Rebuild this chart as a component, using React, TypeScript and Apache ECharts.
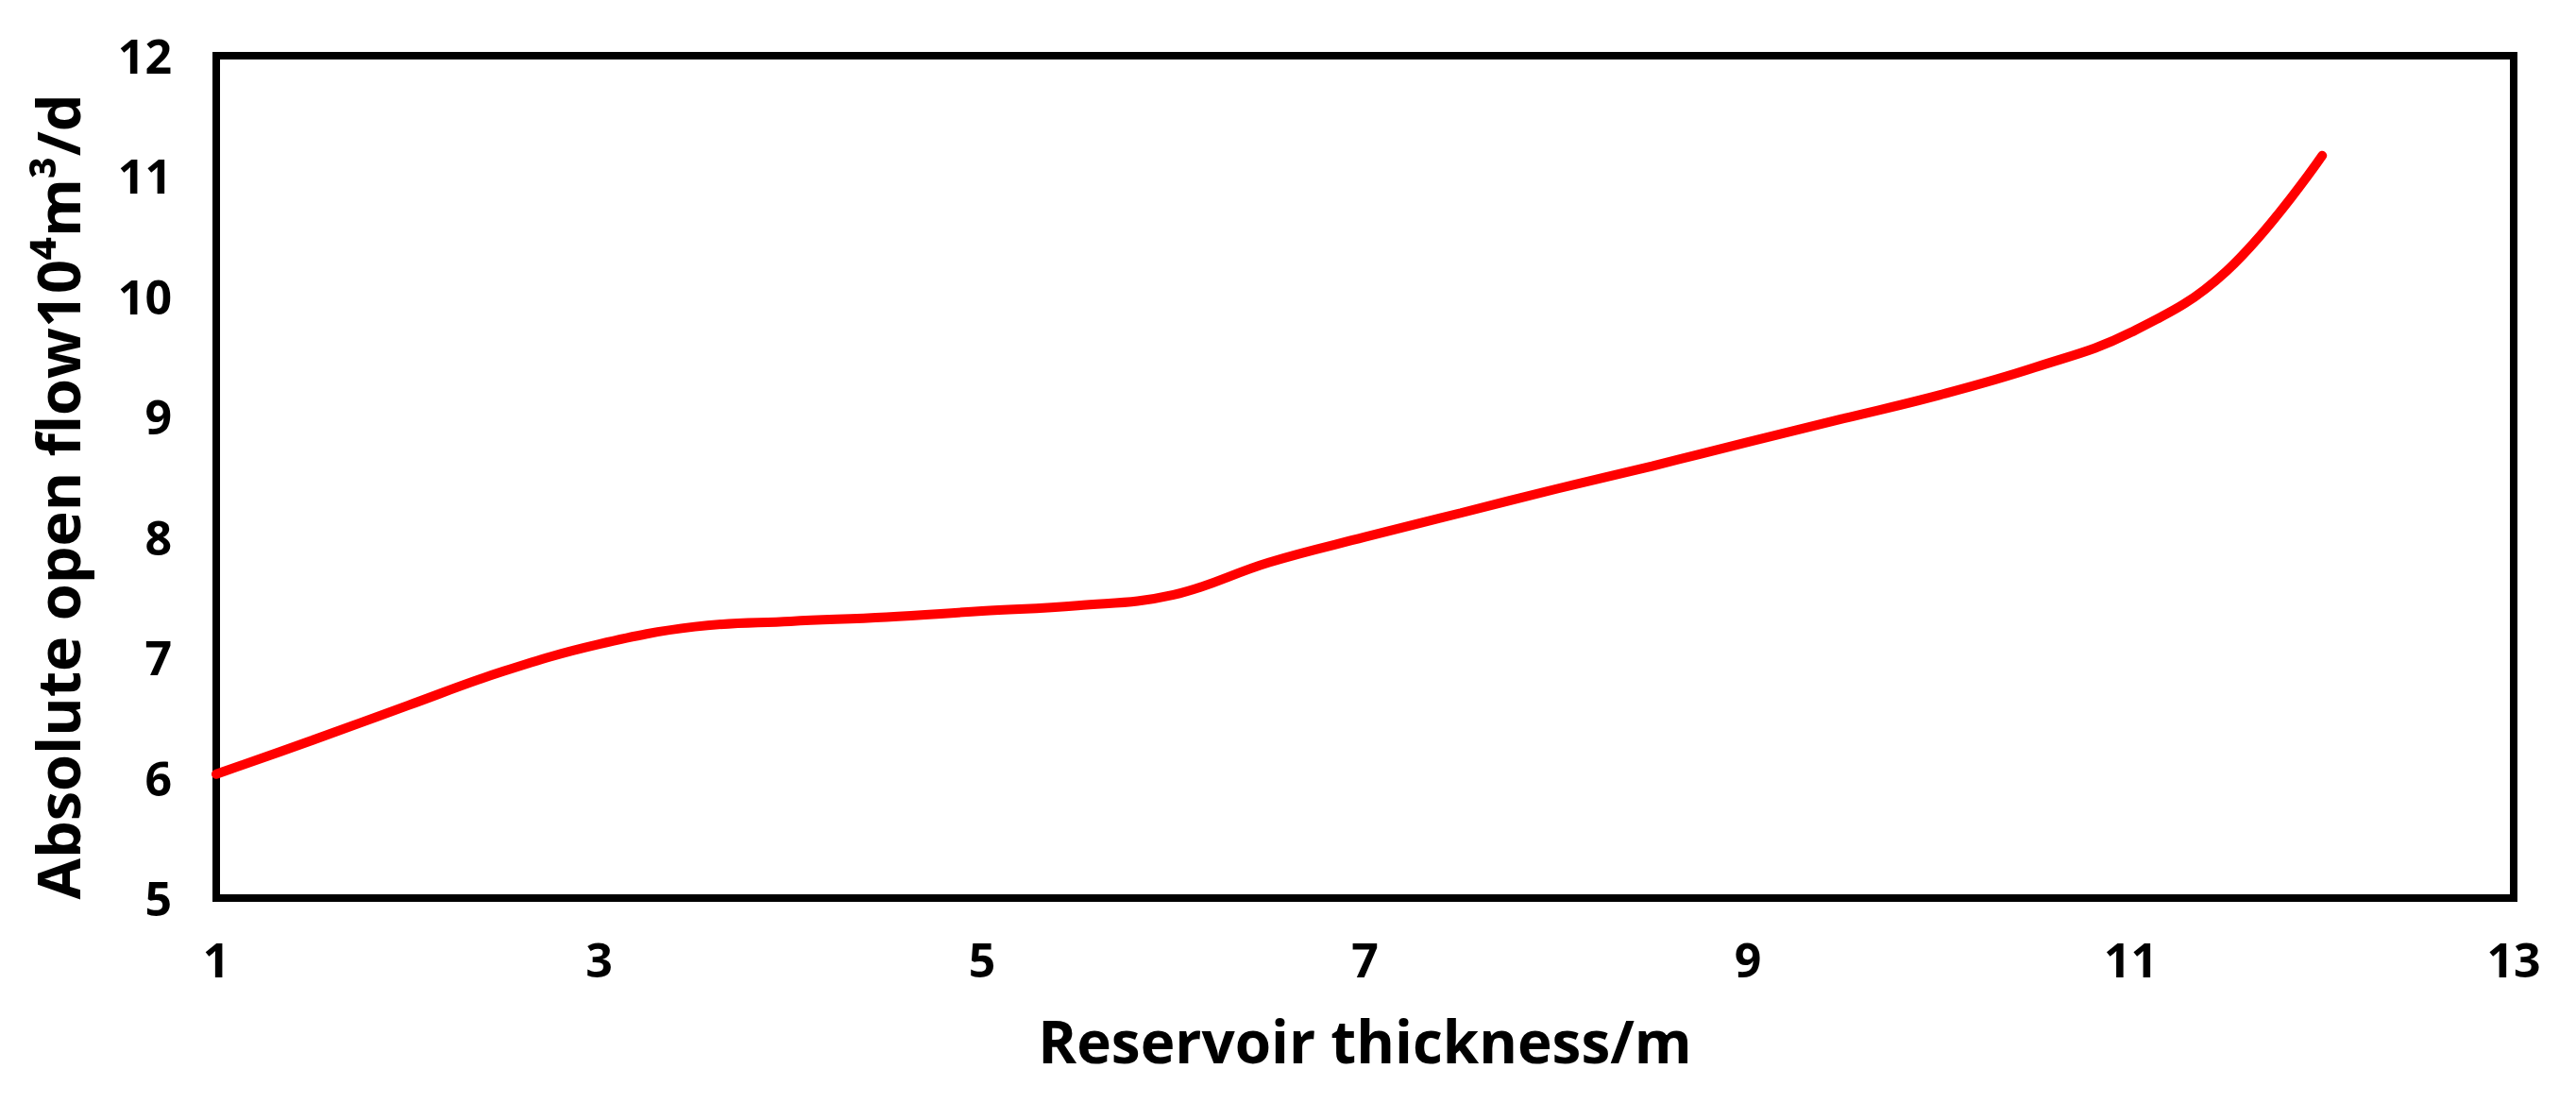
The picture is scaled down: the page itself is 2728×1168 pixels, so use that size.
import React, { useEffect, useRef } from "react";
import * as echarts from "echarts";

const thickness = [1, 1.5, 2, 2.5, 3, 3.5, 4, 4.5, 5, 5.5, 6, 6.5, 7, 7.5, 8, 8.5, 9, 9.5, 10, 10.5, 11, 11.5, 12];
const openFlow = [6.03, 6.31, 6.6, 6.885, 7.11, 7.255, 7.3, 7.335, 7.385, 7.43, 7.52, 7.79, 8.0, 8.2, 8.4, 8.59, 8.79, 8.985, 9.18, 9.41, 9.7, 10.21, 11.17];
const xTicks = [1, 3, 5, 7, 9, 11, 13];
const yTicks = [5, 6, 7, 8, 9, 10, 11, 12];
const xTitle = "Reservoir thickness/m";
const yTitle = "Absolute open flow10\u2074m\u00b3/d";

const FONT = "Open Sans";

export default function App() {
  const ref = useRef<HTMLDivElement>(null);
  useEffect(() => {
    document.body.style.margin = "0";
    if (!ref.current) return;
    const chart = echarts.init(ref.current, undefined, { renderer: "svg" });
    chart.setOption({
      animation: false,
      backgroundColor: "#fff",
      grid: {
        left: 229,
        right: 66,
        top: 59,
        bottom: 217,
        show: true,
        borderColor: "#000",
        borderWidth: 8,
      },
      graphic: [
        {
          type: "text",
          x: 60,
          y: 526,
          rotation: Math.PI / 2,
          style: {
            text: yTitle,
            align: "center",
            verticalAlign: "middle",
            fontFamily: FONT,
            fontWeight: "bold",
            fontSize: 63,
            fill: "#000",
          },
        },
      ],
      xAxis: {
        type: "value",
        min: xTicks[0],
        max: xTicks[xTicks.length - 1],
        interval: 2,
        name: xTitle,
        nameLocation: "middle",
        nameGap: 120,
        nameTextStyle: { fontFamily: FONT, fontWeight: "bold", fontSize: 62, color: "#000" },
        axisLine: { show: false },
        axisTick: { show: false },
        splitLine: { show: false },
        axisLabel: { margin: 40, fontFamily: FONT, fontWeight: "bold", fontSize: 50, color: "#000" },
      },
      yAxis: {
        type: "value",
        min: yTicks[0],
        max: yTicks[yTicks.length - 1],
        interval: 1,
        axisLine: { show: false },
        axisTick: { show: false },
        splitLine: { show: false },
        axisLabel: { margin: 47, fontFamily: FONT, fontWeight: "bold", fontSize: 50, color: "#000" },
      },
      series: [
        {
          type: "line",
          data: thickness.map((x, i) => [x, openFlow[i]]),
          smooth: 0.4,
          symbol: "none",
          lineStyle: { color: "#ff0000", width: 10, cap: "round" },
        },
      ],
    });
    return () => chart.dispose();
  }, []);
  return <div ref={ref} style={{ width: 2728, height: 1168 }} />;
}
